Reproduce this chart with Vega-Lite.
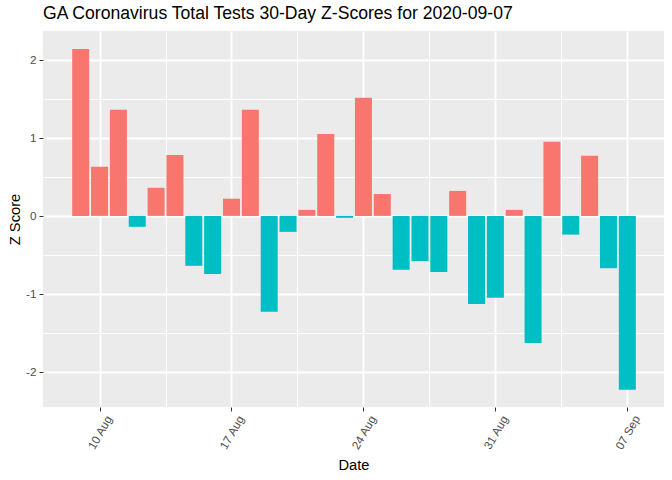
{
  "$schema": "https://vega.github.io/schema/vega-lite/v6.json",
  "autosize": {"type": "none"},
  "padding": {"left": 43, "top": 31, "right": 8, "bottom": 73},
  "width": 621,
  "height": 376,
  "background": "white",
  "title": {
    "text": "GA Coronavirus Total Tests 30-Day Z-Scores for 2020-09-07",
    "anchor": "start",
    "frame": "group",
    "font": "Liberation Sans",
    "fontSize": 17.6,
    "fontWeight": "normal",
    "color": "#000000",
    "baseline": "alphabetic",
    "offset": 10,
    "dy": 16
  },
  "config": {
    "view": {"fill": "#EBEBEB", "stroke": null},
    "axis": {
      "labelFont": "Liberation Sans",
      "labelFontSize": 11.7,
      "labelColor": "#4D4D4D",
      "titleFont": "Liberation Sans",
      "titleFontSize": 14.7,
      "titleFontWeight": "normal",
      "titleColor": "#000000",
      "domain": false,
      "tickColor": "#333333",
      "tickSize": 4,
      "gridColor": "#FFFFFF"
    }
  },
  "data": {
    "values": [
      {"date": "2020-08-09", "z": 2.14},
      {"date": "2020-08-10", "z": 0.63},
      {"date": "2020-08-11", "z": 1.36},
      {"date": "2020-08-12", "z": -0.14},
      {"date": "2020-08-13", "z": 0.36},
      {"date": "2020-08-14", "z": 0.78},
      {"date": "2020-08-15", "z": -0.64},
      {"date": "2020-08-16", "z": -0.745},
      {"date": "2020-08-17", "z": 0.22},
      {"date": "2020-08-18", "z": 1.36},
      {"date": "2020-08-19", "z": -1.23},
      {"date": "2020-08-20", "z": -0.205},
      {"date": "2020-08-21", "z": 0.077},
      {"date": "2020-08-22", "z": 1.05},
      {"date": "2020-08-23", "z": -0.025},
      {"date": "2020-08-24", "z": 1.515},
      {"date": "2020-08-25", "z": 0.28},
      {"date": "2020-08-26", "z": -0.69},
      {"date": "2020-08-27", "z": -0.58},
      {"date": "2020-08-28", "z": -0.72},
      {"date": "2020-08-29", "z": 0.32},
      {"date": "2020-08-30", "z": -1.13},
      {"date": "2020-08-31", "z": -1.05},
      {"date": "2020-09-01", "z": 0.077},
      {"date": "2020-09-02", "z": -1.63},
      {"date": "2020-09-03", "z": 0.95},
      {"date": "2020-09-04", "z": -0.24},
      {"date": "2020-09-05", "z": 0.77},
      {"date": "2020-09-06", "z": -0.67},
      {"date": "2020-09-07", "z": -2.23}
    ],
    "format": {"parse": {"date": "utc:'%Y-%m-%d'"}}
  },
  "mark": {"type": "bar", "width": 17},
  "encoding": {
    "x": {
      "field": "date",
      "type": "temporal",
      "title": "Date",
      "scale": {
        "type": "utc",
        "padding": 0,
        "nice": false,
        "domain": [
          {"year": 2020, "month": 8, "date": 7, "hours": 0, "utc": true},
          {"year": 2020, "month": 9, "date": 8, "hours": 22, "minutes": 42, "utc": true}
        ]
      },
      "axis": {
        "values": [
          {"year": 2020, "month": 8, "date": 10, "utc": true},
          {"year": 2020, "month": 8, "date": 13, "hours": 12, "utc": true},
          {"year": 2020, "month": 8, "date": 17, "utc": true},
          {"year": 2020, "month": 8, "date": 20, "hours": 12, "utc": true},
          {"year": 2020, "month": 8, "date": 24, "utc": true},
          {"year": 2020, "month": 8, "date": 27, "hours": 12, "utc": true},
          {"year": 2020, "month": 8, "date": 31, "utc": true},
          {"year": 2020, "month": 9, "date": 3, "hours": 12, "utc": true},
          {"year": 2020, "month": 9, "date": 7, "utc": true}
        ],
        "labelExpr": "utchours(datum.value) == 12 ? '' : utcFormat(datum.value, '%d %b')",
        "labelAngle": -60,
        "labelAlign": "center",
        "labelBaseline": "middle",
        "labelPadding": 21,
        "tickOpacity": {"condition": {"test": "utchours(datum.value) == 12", "value": 0}, "value": 1},
        "gridWidth": {"condition": {"test": "utchours(datum.value) == 12", "value": 1}, "value": 1.9},
        "titleY": 62.5,
        "titleBaseline": "alphabetic"
      }
    },
    "y": {
      "field": "z",
      "type": "quantitative",
      "title": "Z Score",
      "scale": {"domain": [-2.45, 2.37], "nice": false, "zero": false, "padding": 0},
      "axis": {
        "values": [-2, -1.5, -1, -0.5, 0, 0.5, 1, 1.5, 2],
        "labelExpr": "datum.value % 1 == 0 ? '' + datum.value : ''",
        "labelPadding": 3,
        "tickOpacity": {"condition": {"test": "datum.value % 1 != 0", "value": 0}, "value": 1},
        "gridWidth": {"condition": {"test": "datum.value % 1 != 0", "value": 1}, "value": 1.9},
        "titleX": -23.5,
        "titleBaseline": "alphabetic"
      }
    },
    "color": {
      "condition": {"test": "datum.z > 0", "value": "#F8766D"},
      "value": "#00BFC4"
    }
  }
}
